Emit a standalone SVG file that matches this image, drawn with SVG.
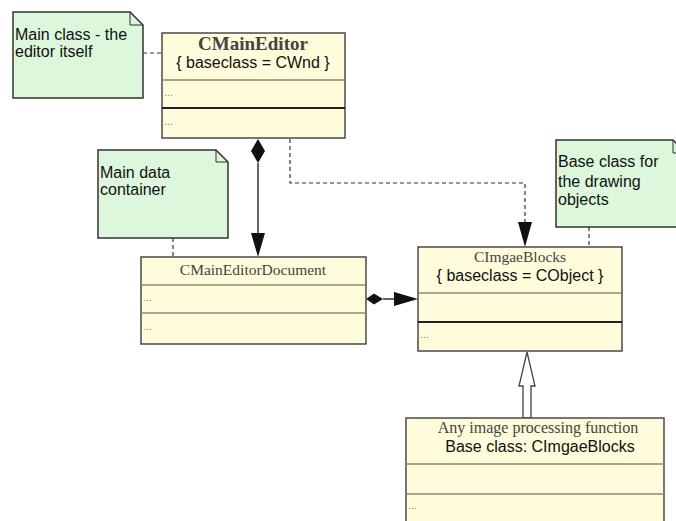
<svg xmlns="http://www.w3.org/2000/svg" width="676" height="521" viewBox="0 0 676 521">
<defs>
<style>
.cls{fill:#fefcda;stroke:#4a4a4a;stroke-width:1.5}
.div1{stroke:#8a8a78;stroke-width:1.5}
.div2{stroke:#222;stroke-width:2}
.note{fill:#dcf7dc;stroke:#333;stroke-width:1.5}
.fold{fill:none;stroke:#333;stroke-width:1}
.ser{font-family:"Liberation Serif","Times New Roman",serif;fill:#444}
.san{font-family:"Liberation Sans",Arial,sans-serif;fill:#111;font-size:16px}
.dots{font-family:"Liberation Sans",Arial,sans-serif;fill:#888;font-size:11px}
.dash{fill:none;stroke:#333;stroke-width:1.2;stroke-dasharray:4 3}
.solid{fill:none;stroke:#333;stroke-width:1.5}
</style>
</defs>
<rect width="676" height="521" fill="#fff"/>

<g id="connectors">
<line class="dash" x1="143" y1="53" x2="162" y2="53"/>
<line class="dash" x1="173" y1="238" x2="173" y2="257"/>
<line class="dash" x1="589" y1="227" x2="589" y2="247"/>
<polyline class="dash" points="290,139 290,183 525,183 525,226"/>
<polygon points="518,222 532,222 525,247" fill="#111"/>
<line class="solid" x1="258" y1="163" x2="258" y2="235"/>
<polygon points="258,139 265,151 258,163 251,151" fill="#111"/>
<polygon points="251,233 265,233 258,257" fill="#111"/>
<line class="solid" x1="383" y1="299" x2="396" y2="299"/>
<polygon points="366,299 374,293.5 383,299 374,304.5" fill="#111"/>
<polygon points="394,292 394,306 418,299" fill="#111"/>
<polygon points="527,352 535,386 531,386 531,418 523,418 523,386 519,386" fill="#fff" stroke="#444" stroke-width="1.3"/>
</g>

<g id="note-main">
<polygon class="note" points="13,12 130,12 143,25 143,98 13,98"/>
<polyline class="fold" points="130,12 130,25 143,25"/>
<text class="san" x="15" y="40">Main class - the</text>
<text class="san" x="15" y="57">editor itself</text>
</g>

<g id="CMainEditor">
<rect class="cls" x="162" y="33" width="183" height="105"/>
<line class="div1" x1="162" y1="80" x2="345" y2="80"/>
<line class="div2" x1="162" y1="108" x2="345" y2="108"/>
<text class="ser" x="253" y="50" text-anchor="middle" font-size="19" font-weight="bold" fill="#333">CMainEditor</text>
<text class="san" x="253" y="68" text-anchor="middle">{ baseclass = CWnd }</text>
<text class="dots" x="164" y="96">...</text>
<text class="dots" x="164" y="125">...</text>
</g>

<g id="note-data">
<polygon class="note" points="98,150 216,150 228,162 228,238 98,238"/>
<polyline class="fold" points="216,150 216,162 228,162"/>
<text class="san" x="100" y="178">Main data</text>
<text class="san" x="100" y="195">container</text>
</g>

<g id="CMainEditorDocument">
<rect class="cls" x="141" y="257" width="225" height="87"/>
<line class="div1" x1="141" y1="285" x2="366" y2="285" stroke="#555"/>
<line class="div1" x1="141" y1="313" x2="366" y2="313" stroke="#555"/>
<text class="ser" x="253" y="275" text-anchor="middle" font-size="15.5">CMainEditorDocument</text>
<text class="dots" x="143" y="301">...</text>
<text class="dots" x="143" y="330">...</text>
</g>

<g id="note-base">
<polygon class="note" points="556,140 673,140 686,153 686,227 556,227"/>
<polyline class="fold" points="673,140 673,153 686,153"/>
<text class="san" x="558" y="167">Base class for</text>
<text class="san" x="558" y="187">the drawing</text>
<text class="san" x="558" y="205">objects</text>
</g>

<g id="CImgaeBlocks">
<rect class="cls" x="418" y="247" width="204" height="104"/>
<line class="div1" x1="418" y1="293" x2="622" y2="293"/>
<line class="div2" x1="418" y1="322" x2="622" y2="322"/>
<text class="ser" x="520" y="262" text-anchor="middle" font-size="15.5">CImgaeBlocks</text>
<text class="san" x="520" y="281" text-anchor="middle">{ baseclass = CObject }</text>
<text class="dots" x="420" y="338">...</text>
</g>

<g id="ImageFunction">
<rect class="cls" x="406" y="418" width="258" height="110"/>
<line class="div1" x1="406" y1="464" x2="664" y2="464"/>
<line class="div1" x1="406" y1="494" x2="664" y2="494"/>
<text class="ser" x="538" y="433" text-anchor="middle" font-size="16">Any image processing function</text>
<text class="san" x="540" y="452" text-anchor="middle">Base class: CImgaeBlocks</text>
<text class="dots" x="408" y="509">...</text>
</g>
</svg>
